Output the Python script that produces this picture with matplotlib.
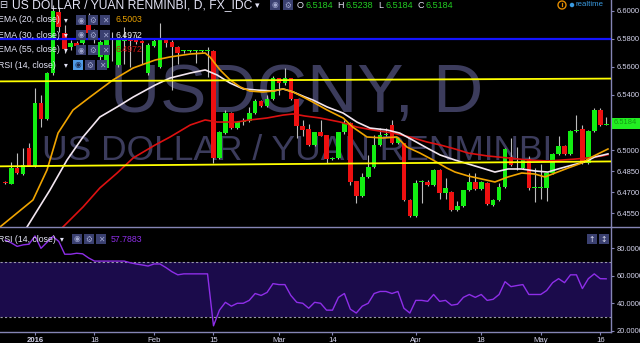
import matplotlib
matplotlib.use('Agg')
import matplotlib.pyplot as plt
from matplotlib.patches import Rectangle, Ellipse
from matplotlib.lines import Line2D

plt.rcParams['font.family'] = ['Liberation Sans', 'DejaVu Sans']

# ---------------- data ----------------
# trading-day index (0 = 4 Jan 2016), one entry per candle
day_index = list(range(-5, 97))

opens = [6.4768, 6.4762, 6.4874, 6.4831, 6.5017, 6.4888, 6.5339, 6.5225, 6.5554, 6.5990,
         6.5840, 6.5740, 6.5769, 6.5769, 6.5898, 6.5847, 6.5668, 6.5590, 6.5795, 6.5611,
         6.5780, 6.5795, 6.5804, 6.5783, 6.5554, 6.5747, 6.5597, 6.5797, 6.5776, 6.5740,
         6.5710, 6.5710, 6.5710, 6.5710, 6.5710, 6.5714, 6.4943, 6.5127, 6.5270, 6.5158,
         6.5203, 6.5210, 6.5266, 6.5356, 6.5318, 6.5368, 6.5516, 6.5480, 6.5516, 6.5366,
         6.5175, 6.5151, 6.5039, 6.5129, 6.5107, 6.4938, 6.4943, 6.5129, 6.5194, 6.4781,
         6.4676, 6.4812, 6.4879, 6.5039, 6.5108, 6.5182, 6.5051, 6.5051, 6.4645, 6.4530,
         6.4774, 6.4776, 6.4752, 6.4860, 6.4697, 6.4704, 6.4572, 6.4601, 6.4716, 6.4776,
         6.4722, 6.4769, 6.4609, 6.4645, 6.4736, 6.4955, 6.4893, 6.4872, 6.4936, 6.4731,
         6.4731, 6.4733, 6.4836, 6.4972, 6.5032, 6.4972, 6.5139, 6.5151, 6.4912, 6.5139,
         6.5289, 6.5184]
highs = [6.4780, 6.4917, 6.4981, 6.5017, 6.5053, 6.5447, 6.5397, 6.5560, 6.6040, 6.6030,
         6.5898, 6.5790, 6.5785, 6.5860, 6.5980, 6.5870, 6.5790, 6.5810, 6.5850, 6.5800,
         6.5880, 6.5820, 6.5830, 6.5790, 6.5770, 6.5800, 6.5910, 6.5805, 6.5790, 6.5750,
         6.5720, 6.5718, 6.5720, 6.5720, 6.5742, 6.5720, 6.5140, 6.5290, 6.5275, 6.5210,
         6.5230, 6.5310, 6.5370, 6.5360, 6.5400, 6.5530, 6.5520, 6.5590, 6.5520, 6.5370,
         6.5215, 6.5190, 6.5135, 6.5220, 6.5110, 6.4955, 6.5135, 6.5220, 6.5200, 6.4781,
         6.4840, 6.4967, 6.5110, 6.5160, 6.5160, 6.5220, 6.5095, 6.5055, 6.4650, 6.4785,
         6.4790, 6.4790, 6.4870, 6.4865, 6.4800, 6.4710, 6.4640, 6.4720, 6.4840, 6.4835,
         6.4780, 6.4775, 6.4650, 6.4770, 6.5015, 6.5088, 6.5023, 6.4940, 6.4960, 6.4873,
         6.4900, 6.4840, 6.4980, 6.5100, 6.5037, 6.5145, 6.5250, 6.5180, 6.5145, 6.5300,
         6.5300, 6.5238]
lows = [6.4760, 6.4762, 6.4830, 6.4825, 6.4885, 6.4880, 6.5167, 6.5218, 6.5540, 6.5850,
        6.5700, 6.5720, 6.5730, 6.5760, 6.5830, 6.5770, 6.5650, 6.5580, 6.5640, 6.5600,
        6.5620, 6.5600, 6.5760, 6.5620, 6.5540, 6.5740, 6.5590, 6.5740, 6.5430, 6.5620,
        6.5700, 6.5706, 6.5625, 6.5705, 6.5527, 6.4909, 6.4935, 6.5120, 6.5150, 6.5150,
        6.5180, 6.5205, 6.5260, 6.5310, 6.5310, 6.5360, 6.5400, 6.5470, 6.5360, 6.5090,
        6.5100, 6.5030, 6.5030, 6.5100, 6.4910, 6.4930, 6.4935, 6.5120, 6.4755, 6.4626,
        6.4670, 6.4805, 6.4875, 6.5035, 6.5100, 6.5045, 6.5045, 6.4640, 6.4525, 6.4525,
        6.4623, 6.4745, 6.4745, 6.4650, 6.4650, 6.4565, 6.4565, 6.4595, 6.4710, 6.4715,
        6.4715, 6.4610, 6.4600, 6.4640, 6.4730, 6.4890, 6.4860, 6.4865, 6.4720, 6.4630,
        6.4650, 6.4640, 6.4830, 6.4965, 6.4965, 6.4965, 6.5130, 6.4905, 6.4905, 6.5130,
        6.5175, 6.5184]
closes = [6.4765, 6.4874, 6.4838, 6.4895, 6.4888, 6.5339, 6.5225, 6.5554, 6.6000, 6.5880,
          6.5726, 6.5769, 6.5747, 6.5840, 6.5840, 6.5811, 6.5776, 6.5797, 6.5790, 6.5790,
          6.5795, 6.5780, 6.5776, 6.5769, 6.5754, 6.5783, 6.5797, 6.5769, 6.5740, 6.5697,
          6.5714, 6.5714, 6.5714, 6.5714, 6.5714, 6.4943, 6.5134, 6.5270, 6.5158, 6.5203,
          6.5208, 6.5268, 6.5356, 6.5318, 6.5368, 6.5516, 6.5480, 6.5516, 6.5366, 6.5175,
          6.5147, 6.5039, 6.5129, 6.5106, 6.4936, 6.4948, 6.5129, 6.5194, 6.4776, 6.4676,
          6.4812, 6.4879, 6.5039, 6.5110, 6.5112, 6.5051, 6.5089, 6.4645, 6.4530, 6.4769,
          6.4778, 6.4752, 6.4860, 6.4697, 6.4733, 6.4573, 6.4601, 6.4716, 6.4776, 6.4722,
          6.4773, 6.4616, 6.4645, 6.4736, 6.5008, 6.4895, 6.4897, 6.4936, 6.4729, 6.4735,
          6.4735, 6.4836, 6.4972, 6.5032, 6.4972, 6.5141, 6.5143, 6.4912, 6.5139, 6.5289,
          6.5182, 6.5184]

rsi_values = [86.0, 84.0, 81.4, 82.5, 83.0, 89.0, 80.0, 84.3, 88.6, 85.0,
              75.7, 75.7, 76.4, 76.0, 73.0, 70.7, 70.7, 70.7, 70.7, 70.7,
              70.7, 69.5, 68.6, 67.9, 67.1, 68.6, 68.6, 66.0, 63.0, 60.7,
              61.4, 61.4, 61.4, 61.4, 61.4, 23.6, 35.0, 40.7, 37.9, 40.0,
              40.0, 42.1, 47.1, 45.7, 47.9, 54.3, 53.6, 53.6, 45.7, 40.7,
              40.0, 36.4, 40.7, 40.0, 35.0, 35.0, 44.3, 47.1, 35.7, 32.9,
              37.9, 40.0, 47.1, 48.6, 48.6, 47.1, 48.6, 36.4, 32.9, 42.1,
              42.1, 41.4, 46.4, 41.4, 42.1, 38.6, 39.3, 44.3, 46.4, 44.3,
              46.4, 42.1, 42.9, 46.4, 55.7, 52.1, 52.9, 53.6, 46.4, 46.4,
              46.4, 49.3, 55.0, 57.9, 55.0, 60.7, 60.7, 50.7, 57.9, 61.4,
              57.9, 57.8]

# EMA curves: (trading-day position, value)
ema20_x = [-5.88, -0.34, 2.02, 3.87, 6.39, 9.24, 13.1, 16.5, 20.2, 22.7, 26.1, 28.6, 29.4,
           31.1, 32.8, 34.5, 36.1, 38.3, 40.0, 41.7, 43.4, 45.4, 46.7, 49.1, 51.8, 53.4,
           55.8, 58.5, 60.8, 62.5, 64.7, 66.9, 69.2, 70.6, 72.8, 75.1, 77.3, 79.5, 81.8,
           84.0, 85.7, 87.4, 89.6, 91.9, 93.6, 95.3, 96.3]
ema20_y = [6.4452, 6.4645, 6.4860, 6.5124, 6.5289, 6.5382, 6.5504, 6.5590, 6.5647, 6.5669,
           6.5690, 6.5697, 6.5669, 6.5576, 6.5504, 6.5454, 6.5425, 6.5418, 6.5425, 6.5440,
           6.5418, 6.5375, 6.5346, 6.5289, 6.5232, 6.5167, 6.5096, 6.5089, 6.5096, 6.5024,
           6.4981, 6.4931, 6.4874, 6.4845, 6.4817, 6.4795, 6.4774, 6.4810, 6.4838, 6.4831,
           6.4810, 6.4838, 6.4874, 6.4910, 6.4953, 6.4989, 6.5010]
ema30_x = [-1.34, 2.52, 5.38, 8.07, 10.9, 13.8, 16.5, 20.2, 22.7, 26.1, 28.6, 30.6, 32.8,
           35.0, 37.3, 40.0, 41.7, 43.4, 45.4, 46.7, 49.1, 51.8, 54.1, 56.3, 59.2, 61.3,
           63.5, 65.9, 68.1, 70.6, 72.8, 75.1, 77.3, 79.5, 81.8, 84.0, 86.2, 87.9, 90.3,
           92.4, 94.1, 96.3]
ema30_y = [6.4452, 6.4717, 6.4931, 6.5096, 6.5239, 6.5311, 6.5382, 6.5468, 6.5518, 6.5554,
           6.5576, 6.5540, 6.5482, 6.5440, 6.5432, 6.5425, 6.5440, 6.5418, 6.5382, 6.5361,
           6.5311, 6.5267, 6.5203, 6.5160, 6.5146, 6.5124, 6.5074, 6.5017, 6.4967, 6.4931,
           6.4903, 6.4874, 6.4845, 6.4867, 6.4867, 6.4853, 6.4845, 6.4867, 6.4895, 6.4917,
           6.4953, 6.4975]
ema55_x = [4.7, 8.07, 10.9, 13.8, 16.5, 20.2, 22.7, 26.1, 28.6, 30.6, 33.9, 36.1, 39.0,
           41.7, 43.4, 45.4, 47.9, 51.3, 54.1, 56.8, 60.2, 63.0, 65.9, 68.1, 70.6, 72.8,
           76.1, 79.5, 82.9, 86.2, 88.6, 90.8, 92.9, 95.3, 96.3]
ema55_y = [6.4452, 6.4595, 6.4731, 6.4838, 6.4946, 6.5039, 6.5096, 6.5182, 6.5218, 6.5203,
           6.5203, 6.5218, 6.5232, 6.5253, 6.5261, 6.5246, 6.5232, 6.5203, 6.5167, 6.5146,
           6.5124, 6.5096, 6.5060, 6.5039, 6.5010, 6.4981, 6.4960, 6.4946, 6.4931, 6.4924,
           6.4931, 6.4938, 6.4946, 6.4960, 6.4970]

# hand-drawn lines: (start day, end day), (start price, end price)
upper_trend_x = [-5.88, 96.81]
upper_trend_y = [6.5494, 6.5514]
lower_trend_x = [-5.88, 96.81]
lower_trend_y = [6.4886, 6.4921]
blue_level = 6.5800

date_ticks = [0, 10, 20, 30, 41, 50, 64, 75, 85, 95]
date_labels = ['2016', '18', 'Feb', '15', 'Mar', '14', 'Apr', '18', 'May', '16']
price_ticks = [6.455, 6.470, 6.485, 6.500, 6.540, 6.560, 6.580, 6.600]
rsi_ticks = [20, 40, 60, 80]
last_price = 6.5184
ohlc_legend = ['6.5184', '6.5238', '6.5184', '6.5184']
ema_legend = ['6.5003', '6.4972', '6.4972']
rsi_legend = '57.7883'

# ---------------- styling ----------------
W, H = 640, 343
BG = 'black'
AX_COL = '#8585b5'
LBL_COL = '#d6d6ee'
UP = '#12ee12'
DOWN = '#ee1010'
WICK = '#bdbdbd'


def fx(px):
    return px / W


def fy(py):
    return 1 - py / H


fig = plt.figure(figsize=(6.4, 3.43), dpi=100, facecolor=BG)

XMIN, XMAX = -5.882, 96.81

# main price panel
ax = fig.add_axes([0, fy(227), fx(611), 227 / H])
ax.set_facecolor(BG)
ax.set_xlim(XMIN, XMAX)
ax.set_ylim(6.44517, 6.60766)
ax.yaxis.tick_right()
ax.set_yticks(price_ticks)
ax.set_yticklabels([f'{t:.4f}' for t in price_ticks])
ax.tick_params(axis='y', colors=AX_COL, labelcolor=LBL_COL, labelsize=5.4,
               length=2.5, width=0.8, pad=1.5)
ax.set_xticks([])
for s in ['top', 'left', 'bottom']:
    ax.spines[s].set_visible(False)
ax.spines['right'].set_color(AX_COL)
ax.spines['right'].set_linewidth(1.0)

# watermark
ax.text(fx(297), fy(112), 'USDCNY, D', transform=fig.transFigure, ha='center',
        va='baseline', fontsize=50, color='#3c3c5c', zorder=0.5)
ax.text(fx(297), fy(160), 'US DOLLAR / YUAN RENMINBI', transform=fig.transFigure,
        ha='center', va='baseline', fontsize=25.5, color='#3c3c5c', zorder=0.5)

# candles
for d, o, h, l, c in zip(day_index, opens, highs, lows, closes):
    col = UP if c >= o else DOWN
    ax.vlines(d, l, h, color=WICK, lw=0.8, zorder=2)
    ax.bar(d, max(abs(c - o), 0.0006), bottom=min(o, c), width=0.78, color=col,
           zorder=2.5, linewidth=0)

# EMAs
ax.plot(ema55_x, ema55_y, color='#dd1111', lw=1.2, zorder=3)
ax.plot(ema30_x, ema30_y, color='#f2e6f0', lw=1.2, zorder=3.1)
ax.plot(ema20_x, ema20_y, color='#f0a400', lw=1.2, zorder=3.2)

# drawn lines
ax.plot(upper_trend_x, upper_trend_y, color='#ffff00', lw=1.3, zorder=4)
ax.plot(lower_trend_x, lower_trend_y, color='#ffff00', lw=1.3, zorder=4)
ax.axhline(blue_level, color='#1414ff', lw=1.6, zorder=4)

# RSI panel
axr = fig.add_axes([0, fy(332), fx(611), (332 - 227) / H])
axr.set_facecolor(BG)
axr.set_xlim(XMIN, XMAX)
axr.set_ylim(19.1, 95.5)
axr.axhspan(30, 70, color='#1b0b4b', zorder=0.5, lw=0)
axr.axhline(70, color='#9a9aaa', lw=0.8, ls=(0, (2, 2)), zorder=1)
axr.axhline(30, color='#9a9aaa', lw=0.8, ls=(0, (2, 2)), zorder=1)
axr.plot(day_index, rsi_values, color='#8e2ee8', lw=1.0, zorder=2)
axr.yaxis.tick_right()
axr.set_yticks(rsi_ticks)
axr.set_yticklabels([f'{t:.4f}' for t in rsi_ticks])
axr.tick_params(axis='y', colors=AX_COL, labelcolor=LBL_COL, labelsize=5.4,
                length=2.5, width=0.8, pad=1.5)
axr.set_xticks(date_ticks)
axr.set_xticklabels(date_labels)
axr.tick_params(axis='x', colors=AX_COL, labelcolor=LBL_COL, labelsize=5.6,
                length=2.5, width=0.8, pad=1.2)
axr.get_xticklabels()[0].set_fontweight('bold')
for s in ['top', 'left']:
    axr.spines[s].set_visible(False)
for s in ['right', 'bottom']:
    axr.spines[s].set_color(AX_COL)
    axr.spines[s].set_linewidth(1.0)

# separator between panels (full width)
fig.add_artist(Line2D([0, 1], [fy(227), fy(227)], transform=fig.transFigure,
                      color=AX_COL, lw=1.0))

# last price box
fig.add_artist(Rectangle((fx(612), fy(128.5)), fx(28), 11 / H, transform=fig.transFigure,
                         color='#22ee22', lw=0, zorder=5))
fig.text(fx(614), fy(123), f'{last_price:.4f}', fontsize=5.4, color='#139a13',
         va='center', ha='left', zorder=6)


# ---------------- header / legends ----------------
def icon(x, y, sym, bg='#3a4070', fg='#a2a8d0'):
    fig.add_artist(Rectangle((fx(x), fy(y + 5)), fx(10), 10 / H, transform=fig.transFigure,
                             color=bg, lw=0, zorder=5))
    fig.text(fx(x + 5), fy(y), sym, fontsize=5.5, color=fg, ha='center', va='center',
             family=['DejaVu Sans'], zorder=6)


TXT = '#e4e4f6'
fig.text(fx(-1), fy(5), '⊟', fontsize=7, color=TXT, va='center', family=['DejaVu Sans'])
fig.text(fx(12), fy(5.5), 'US DOLLAR / YUAN RENMINBI, D, FX_IDC', fontsize=8.7,
         color=TXT, va='center', ha='left')
fig.text(fx(255), fy(5.5), '▾', fontsize=6.5, color=TXT, va='center', family=['DejaVu Sans'])
icon(270, 5, '◉')
icon(283, 5, '⚙')
GREEN_TXT = '#22cc22'
xs_lbl = [297, 337, 378, 417]
xs_val = [305, 346, 386, 426]
for lab, xl, xv, val in zip(['O', 'H', 'L', 'C'], xs_lbl, xs_val, ohlc_legend):
    fig.text(fx(xl), fy(5.5), lab, fontsize=6.5, color=TXT, va='center', ha='left')
    fig.text(fx(xv), fy(5.5), val, fontsize=6.5, color=GREEN_TXT, va='center', ha='left')

# realtime indicator
fig.add_artist(Ellipse((fx(562), fy(5)), fx(8), 8 / H, transform=fig.transFigure,
                       fill=False, ec='#e08a00', lw=1.0))
fig.add_artist(Line2D([fx(562), fx(562)], [fy(3), fy(6)], transform=fig.transFigure,
                      color='#e08a00', lw=0.9))
fig.add_artist(Ellipse((fx(572), fy(5)), fx(4.5), 4.5 / H, transform=fig.transFigure,
                       color='#3a9ae0', lw=0))
fig.text(fx(576), fy(5), 'realtime', fontsize=5.6, color='#3a9ae0', va='center', ha='left')

leg_rows = [(20, 'EMA (20, close)', ema_legend[0], '#e8a000'),
            (35, 'EMA (30, close)', ema_legend[1], '#eeeeee'),
            (50, 'EMA (55, close)', ema_legend[2], '#cc1111'),
            (65, 'RSI (14, close)', None, None)]
for yy, name, val, vcol in leg_rows:
    fig.text(fx(-1.5), fy(yy), name, fontsize=6.3, color=TXT, va='center', ha='left')
    fig.text(fx(64), fy(yy), '▾', fontsize=5.5, color=TXT, va='center', family=['DejaVu Sans'])
    if name.startswith('RSI'):
        icon(73, yy, '◉', bg='#4f9ae6', fg='#1a2a50')
        icon(85, yy, '⚙')
        icon(97, yy, '✕')
    else:
        icon(76, yy, '◉')
        icon(88, yy, '⚙')
        icon(100, yy, '✕')
    if val is not None:
        fig.text(fx(116), fy(yy), val, fontsize=6.3, color=vcol, va='center', ha='left')

fig.text(fx(-1.5), fy(239), 'RSI (14, close)', fontsize=6.3, color=TXT, va='center', ha='left')
fig.text(fx(60), fy(239), '▾', fontsize=5.5, color=TXT, va='center', family=['DejaVu Sans'])
icon(72, 239, '◉')
icon(84, 239, '⚙')
icon(96, 239, '✕')
fig.text(fx(111), fy(239), rsi_legend, fontsize=6.3, color='#8e2ee8', va='center', ha='left')
icon(587, 239, '↑', bg='#3a4070', fg='#e0e0f0')
icon(599, 239, '↕', bg='#3a4070', fg='#e0e0f0')

fig.savefig('out.png', dpi=100, facecolor=BG)
